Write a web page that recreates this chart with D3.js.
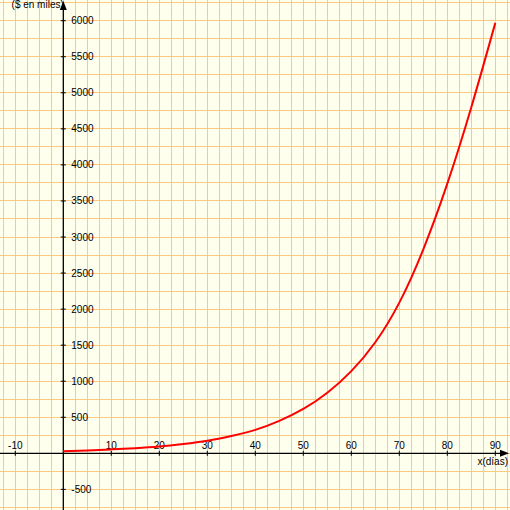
<!DOCTYPE html>
<html>
<head>
<meta charset="utf-8">
<script src="https://cdn.jsdelivr.net/npm/d3@7"></script>
<style>
    body { margin: 0; padding: 0; background: #ffffee; }
    svg { display: block; }
</style>
</head>
<body>
<script>
// days (x) and thousands of dollars (y)
const days = [0, 5, 10, 15, 20, 25, 30, 35, 40, 45, 50, 55, 60, 65, 70, 75, 80, 85, 90]
const miles = [30, 40, 55, 72, 95, 130, 175, 240, 325, 450, 615, 840, 1140, 1540, 2090, 2830, 3740, 4800, 5970]

const xTicks = [-10, 10, 20, 30, 40, 50, 60, 70, 80, 90]
const yTicks = [-500, 500, 1000, 1500, 2000, 2500, 3000, 3500, 4000, 4500, 5000, 5500, 6000]

const xLabel = "x(días)"
const yLabel = "($ en miles)"

const svgWidth = 510
const svgHeight = 510

window.onload = main

function main() {
    const data = days.map((d, i) => ({x: d, y: miles[i]}))

    const svg = d3.select("body").append("svg")
        .attr("width", svgWidth)
        .attr("height", svgHeight)
        .style("font-family", "'Liberation Sans', Arial, sans-serif")
        .style("font-size", "10px")

    svg.append("rect")
        .attr("width", svgWidth)
        .attr("height", svgHeight)
        .attr("fill", "#ffffee")

    const scaleX = d3.scaleLinear()
        .domain([-13.19, 93.06])
        .range([0, svgWidth])

    const scaleY = d3.scaleLinear()
        .domain([-786, 6287])
        .range([svgHeight, 0])

    // grid paper
    const gGrid = svg.append("g")
        .attr("stroke", "#f9ca80")
        .attr("stroke-width", 1)
        .attr("shape-rendering", "crispEdges")

    gGrid.selectAll("line.v")
        .data(d3.range(-12.5, 93, 2.5))
        .join("line")
        .attr("class", "v")
        .attr("x1", d => scaleX(d))
        .attr("x2", d => scaleX(d))
        .attr("y1", 0)
        .attr("y2", svgHeight)

    gGrid.selectAll("line.h")
        .data(d3.range(-750, 6300, 250))
        .join("line")
        .attr("class", "h")
        .attr("x1", 0)
        .attr("x2", svgWidth)
        .attr("y1", d => scaleY(d))
        .attr("y2", d => scaleY(d))

    const x0 = scaleX(0)
    const y0 = scaleY(0)

    // axis titles (under the arrows)
    svg.append("text")
        .attr("x", svgWidth - 2)
        .attr("y", y0 + 12)
        .attr("text-anchor", "end")
        .attr("fill", "black")
        .text(xLabel)

    svg.append("text")
        .attr("x", x0 + 0.5)
        .attr("y", 8)
        .attr("text-anchor", "end")
        .attr("fill", "black")
        .text(yLabel)

    // axes
    const gAxes = svg.append("g").attr("stroke", "black")

    gAxes.append("line")
        .attr("x1", 0).attr("x2", svgWidth - 6)
        .attr("y1", y0).attr("y2", y0)
        .attr("stroke-width", 1.3)

    gAxes.append("line")
        .attr("x1", x0).attr("x2", x0)
        .attr("y1", 8).attr("y2", svgHeight)
        .attr("stroke-width", 1.3)

    // arrow heads
    svg.append("path")
        .attr("d", `M${svgWidth - 1},${y0} L${svgWidth - 10},${y0 - 3.5} L${svgWidth - 10},${y0 + 3.5} Z`)
        .attr("fill", "black")

    svg.append("path")
        .attr("d", `M${x0},1 L${x0 - 3.5},10 L${x0 + 3.5},10 Z`)
        .attr("fill", "black")

    // x ticks + labels
    const gx = svg.append("g")
    gx.selectAll("line")
        .data(xTicks)
        .join("line")
        .attr("x1", d => scaleX(d))
        .attr("x2", d => scaleX(d))
        .attr("y1", y0 - 2.5)
        .attr("y2", y0 + 2.5)
        .attr("stroke", "black")
    gx.selectAll("text")
        .data(xTicks)
        .join("text")
        .attr("x", d => scaleX(d))
        .attr("y", y0 - 4)
        .attr("text-anchor", "middle")
        .attr("fill", "black")
        .text(d => d)

    // y ticks + labels
    const gy = svg.append("g")
    gy.selectAll("line")
        .data(yTicks)
        .join("line")
        .attr("x1", x0 - 2.5)
        .attr("x2", x0 + 2.5)
        .attr("y1", d => scaleY(d))
        .attr("y2", d => scaleY(d))
        .attr("stroke", "black")
    gy.selectAll("text")
        .data(yTicks)
        .join("text")
        .attr("x", x0 + 8)
        .attr("y", d => scaleY(d))
        .attr("dy", "0.35em")
        .attr("fill", "black")
        .text(d => d)

    // the curve
    const line = d3.line()
        .x(d => scaleX(d.x))
        .y(d => scaleY(d.y))
        .curve(d3.curveNatural)

    svg.append("path")
        .datum(data)
        .attr("d", line)
        .attr("fill", "none")
        .attr("stroke", "#ff0000")
        .attr("stroke-width", 2)
}
</script>
</body>
</html>
